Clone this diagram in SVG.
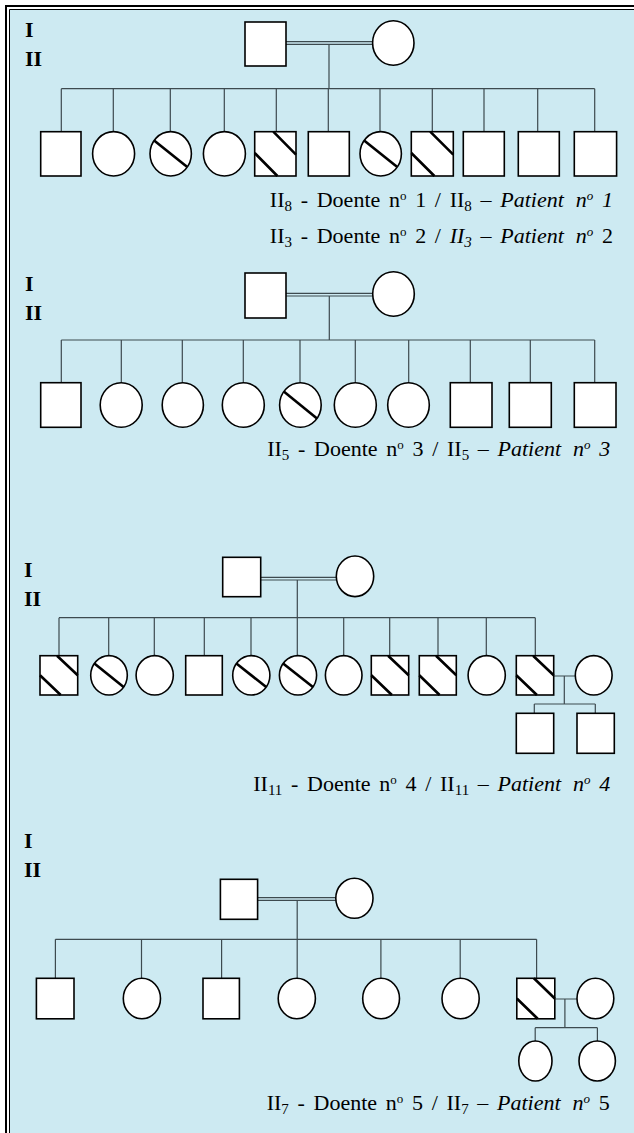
<svg xmlns="http://www.w3.org/2000/svg" width="634" height="1133" viewBox="0 0 634 1133">
  <style>
    .ind { fill: #fff; stroke: #000; stroke-width: 1.6; }
    .aff { stroke: #000; stroke-width: 2.6; fill: none; }
    .ln { stroke: #3d4a4f; stroke-width: 1.2; fill: none; }
    .gen { font-family: "Liberation Serif", "Times New Roman", serif; font-weight: bold; font-size: 22px; fill: #000; }
    .lab { font-family: "Liberation Serif", "Times New Roman", serif; font-size: 22px; word-spacing: 3.2px; fill: #000; }
    .it { font-style: italic; }
  </style>

  <!-- page frame: double rule on top and left, light-blue panel -->
  <rect x="0" y="0" width="634" height="1133" fill="#fff"/>
  <rect x="9" y="9" width="625" height="1124" fill="#cdeaf2"/>
  <path d="M6,1133 V6 H634" fill="none" stroke="#000" stroke-width="2"/>
  <path d="M9.5,1133 V9.5 H634" fill="none" stroke="#000" stroke-width="1"/>

  <!-- generation markers -->
  <g id="gen-labels">
    <text class="gen" x="25" y="36.7">I</text>
    <text class="gen" x="25" y="66">II</text>
    <text class="gen" x="25" y="290.7">I</text>
    <text class="gen" x="25" y="320">II</text>
    <text class="gen" x="24" y="576.7">I</text>
    <text class="gen" x="24" y="606">II</text>
    <text class="gen" x="24" y="848">I</text>
    <text class="gen" x="24" y="876.5">II</text>
  </g>

  <!-- connectors -->
  <g id="connectors" class="ln">
    <!-- family 1 -->
    <path d="M286,41.7 H372.6 M286,44.3 H372.6"/>
    <path d="M329,44.3 V88.7 M61.3,88.7 H594.7"/>
    <path d="M61.3,88.7 V131.7 M113.3,88.7 V131.7 M170.3,88.7 V131.7 M224.3,88.7 V131.7 M276.3,88.7 V131.7 M328.3,88.7 V131.7 M380,88.7 V131.7 M432.3,88.7 V131.7 M484,88.7 V131.7 M537.7,88.7 V131.7 M594.7,88.7 V131.7"/>
    <!-- family 2 -->
    <path d="M286,293.3 H372.7 M286,296 H372.7"/>
    <path d="M329.3,296 V340 M61.3,340 H594.7"/>
    <path d="M61.3,340 V382.7 M121.3,340 V382.7 M182.3,340 V382.7 M243.3,340 V382.7 M300,340 V382.7 M355.3,340 V382.7 M408.7,340 V382.7 M470.3,340 V382.7 M530.3,340 V382.7 M594.7,340 V382.7"/>
    <!-- family 3 -->
    <path d="M260.7,577.3 H336.3 M260.7,580 H336.3"/>
    <path d="M297.3,580 V617.7 M59,617.7 H535.3"/>
    <path d="M59,617.7 V655.7 M108.7,617.7 V655.7 M154.3,617.7 V655.7 M204.3,617.7 V655.7 M251,617.7 V655.7 M297.3,617.7 V655.7 M343.7,617.7 V655.7 M389.7,617.7 V655.7 M438,617.7 V655.7 M486.3,617.7 V655.7 M535.3,617.7 V655.7"/>
    <path d="M553.7,676 H575.3 M564.3,676 V704 M534.3,704 H595.3 M534.3,704 V713.3 M595.3,704 V713.3"/>
    <!-- family 4 -->
    <path d="M257.6,897.7 H335.8 M257.6,900.3 H335.8"/>
    <path d="M297.2,900.3 V939.3 M55.4,939.3 H536.6"/>
    <path d="M55.4,939.3 V978.3 M141.5,939.3 V978.3 M221.6,939.3 V978.3 M297.2,939.3 V978.3 M380.9,939.3 V978.3 M460.2,939.3 V978.3 M536.6,939.3 V978.3"/>
    <path d="M554.8,999 H577 M564.9,999 V1027.7 M535.2,1027.7 H597.4 M535.2,1027.7 V1041 M597.4,1027.7 V1041"/>
  </g>

  <!-- family 1 -->
  <g id="f1-father"><rect class="ind" x="245" y="22" width="41" height="44"/></g>
  <g id="f1-mother"><ellipse class="ind" cx="393.3" cy="43" rx="20.7" ry="22.2"/></g>
  <g id="f1-c1"><rect class="ind" x="40.7" y="131.7" width="40.3" height="44.3"/></g>
  <g id="f1-c2"><ellipse class="ind" cx="113.6" cy="153.8" rx="21" ry="22.2"/></g>
  <g id="f1-c3"><ellipse class="ind" cx="170.7" cy="153.8" rx="20.7" ry="22.2"/><path class="aff" d="M154.1,140.5 L187.3,167.1"/></g>
  <g id="f1-c4"><ellipse class="ind" cx="224.4" cy="153.8" rx="21" ry="22.2"/></g>
  <g id="f1-c5"><rect class="ind" x="254.7" y="131.7" width="41.3" height="44.3"/><path class="aff" d="M273.3,131.7 L296,154.7 M254.7,153 L277.4,176"/></g>
  <g id="f1-c6"><rect class="ind" x="308.3" y="131.7" width="41" height="44.3"/></g>
  <g id="f1-c7"><ellipse class="ind" cx="380.7" cy="153.8" rx="20.7" ry="22.2"/><path class="aff" d="M364.1,140.5 L397.3,167.1"/></g>
  <g id="f1-c8"><rect class="ind" x="411.3" y="131.7" width="42" height="44.3"/><path class="aff" d="M430.2,131.7 L453.3,154.7 M411.3,153 L434.4,176"/></g>
  <g id="f1-c9"><rect class="ind" x="463.3" y="131.7" width="41" height="44.3"/></g>
  <g id="f1-c10"><rect class="ind" x="518.3" y="131.7" width="41" height="44.3"/></g>
  <g id="f1-c11"><rect class="ind" x="574.3" y="131.7" width="42.3" height="44.3"/></g>
  <g id="f1-caption">
    <text class="lab" x="613" y="206.5" text-anchor="end">II<tspan font-size="15" dy="4">8</tspan><tspan dy="-4"> - Doente n</tspan><tspan font-size="13" dy="-7">o</tspan><tspan dy="7"> 1 / II</tspan><tspan font-size="15" dy="4">8</tspan><tspan dy="-4"> – </tspan><tspan class="it">Patient</tspan><tspan class="it" dx="12">n</tspan><tspan class="it" font-size="13" dy="-7">o</tspan><tspan class="it" dy="7"> 1</tspan></text>
    <text class="lab" x="613" y="242.5" text-anchor="end">II<tspan font-size="15" dy="4">3</tspan><tspan dy="-4"> - Doente n</tspan><tspan font-size="13" dy="-7">o</tspan><tspan dy="7"> 2 / </tspan><tspan class="it">II</tspan><tspan class="it" font-size="15" dy="4">3</tspan><tspan dy="-4"> – </tspan><tspan class="it">Patient</tspan><tspan class="it" dx="12">n</tspan><tspan class="it" font-size="13" dy="-7">o</tspan><tspan dy="7"> 2</tspan></text>
  </g>

  <!-- family 2 -->
  <g id="f2-father"><rect class="ind" x="245" y="273" width="41" height="45"/></g>
  <g id="f2-mother"><ellipse class="ind" cx="393.5" cy="294" rx="20.8" ry="22.2"/></g>
  <g id="f2-c1"><rect class="ind" x="40.7" y="382.7" width="40.3" height="44.6"/></g>
  <g id="f2-c2"><ellipse class="ind" cx="121.2" cy="405" rx="21" ry="22.3"/></g>
  <g id="f2-c3"><ellipse class="ind" cx="182.8" cy="405" rx="20.6" ry="22.3"/></g>
  <g id="f2-c4"><ellipse class="ind" cx="243.3" cy="405" rx="21" ry="22.3"/></g>
  <g id="f2-c5"><ellipse class="ind" cx="300.4" cy="405" rx="20.8" ry="22.3"/><path class="aff" d="M283.8,391.6 L317,418.4"/></g>
  <g id="f2-c6"><ellipse class="ind" cx="355.3" cy="405" rx="21" ry="22.3"/></g>
  <g id="f2-c7"><ellipse class="ind" cx="408.5" cy="405" rx="20.8" ry="22.3"/></g>
  <g id="f2-c8"><rect class="ind" x="450.3" y="382.7" width="41.7" height="44.6"/></g>
  <g id="f2-c9"><rect class="ind" x="509.3" y="382.7" width="42" height="44.6"/></g>
  <g id="f2-c10"><rect class="ind" x="574.3" y="382.7" width="41.7" height="44.6"/></g>
  <g id="f2-caption">
    <text class="lab" x="610.3" y="455.5" text-anchor="end">II<tspan font-size="15" dy="4">5</tspan><tspan dy="-4"> - Doente n</tspan><tspan font-size="13" dy="-7">o</tspan><tspan dy="7"> 3 / II</tspan><tspan font-size="15" dy="4">5</tspan><tspan dy="-4"> – </tspan><tspan class="it">Patient</tspan><tspan class="it" dx="12">n</tspan><tspan class="it" font-size="13" dy="-7">o</tspan><tspan class="it" dy="7"> 3</tspan></text>
  </g>

  <!-- family 3 -->
  <g id="f3-father"><rect class="ind" x="222.7" y="557.3" width="38" height="39.4"/></g>
  <g id="f3-mother"><ellipse class="ind" cx="355" cy="576.3" rx="18.7" ry="20.3"/></g>
  <g id="f3-c1"><rect class="ind" x="40" y="655.7" width="37.7" height="39.3"/><path class="aff" d="M57,655.7 L77.7,675.3 M40,675.3 L60.7,695"/></g>
  <g id="f3-c2"><ellipse class="ind" cx="109" cy="675.3" rx="18.3" ry="19.7"/><path class="aff" d="M94.4,663.5 L123.6,687.1"/></g>
  <g id="f3-c3"><ellipse class="ind" cx="154.7" cy="675.3" rx="18.6" ry="19.7"/></g>
  <g id="f3-c4"><rect class="ind" x="185.7" y="655.7" width="36.6" height="39.3"/></g>
  <g id="f3-c5"><ellipse class="ind" cx="251.3" cy="675.3" rx="18.6" ry="19.7"/><path class="aff" d="M236.4,663.5 L266.2,687.1"/></g>
  <g id="f3-c6"><ellipse class="ind" cx="298" cy="675.3" rx="18.6" ry="19.7"/><path class="aff" d="M283.1,663.5 L312.9,687.1"/></g>
  <g id="f3-c7"><ellipse class="ind" cx="343.7" cy="675.3" rx="18.3" ry="19.7"/></g>
  <g id="f3-c8"><rect class="ind" x="371.3" y="655.7" width="37.4" height="39.3"/><path class="aff" d="M388.1,655.7 L408.7,675.3 M371.3,675.3 L391.9,695"/></g>
  <g id="f3-c9"><rect class="ind" x="419.3" y="655.7" width="37" height="39.3"/><path class="aff" d="M436,655.7 L456.3,675.3 M419.3,675.3 L439.6,695"/></g>
  <g id="f3-c10"><ellipse class="ind" cx="486.7" cy="675.3" rx="18.6" ry="19.7"/></g>
  <g id="f3-c11"><rect class="ind" x="516.3" y="655.7" width="37.4" height="39.3"/><path class="aff" d="M533.1,655.7 L553.7,675.3 M516.3,675.3 L536.9,695"/></g>
  <g id="f3-spouse"><ellipse class="ind" cx="593.7" cy="675.3" rx="18.4" ry="19.7"/></g>
  <g id="f3-gc1"><rect class="ind" x="516.3" y="713.3" width="37.4" height="40"/></g>
  <g id="f3-gc2"><rect class="ind" x="577" y="713.3" width="37.3" height="40"/></g>
  <g id="f3-caption">
    <text class="lab" x="610.3" y="790.5" text-anchor="end">II<tspan font-size="15" dy="4">11</tspan><tspan dy="-4"> - Doente n</tspan><tspan font-size="13" dy="-7">o</tspan><tspan dy="7"> 4 / II</tspan><tspan font-size="15" dy="4">11</tspan><tspan dy="-4"> – </tspan><tspan class="it">Patient</tspan><tspan class="it" dx="12">n</tspan><tspan class="it" font-size="13" dy="-7">o</tspan><tspan class="it" dy="7"> 4</tspan></text>
  </g>

  <!-- family 4 -->
  <g id="f4-father"><rect class="ind" x="220.4" y="879.3" width="37.2" height="40"/></g>
  <g id="f4-mother"><ellipse class="ind" cx="354.4" cy="898.3" rx="18.6" ry="20"/></g>
  <g id="f4-c1"><rect class="ind" x="36.4" y="978.3" width="37.6" height="40.5"/></g>
  <g id="f4-c2"><ellipse class="ind" cx="141.9" cy="998.5" rx="18.6" ry="20.2"/></g>
  <g id="f4-c3"><rect class="ind" x="203" y="978.3" width="36.4" height="40.5"/></g>
  <g id="f4-c4"><ellipse class="ind" cx="296.8" cy="998.5" rx="18.6" ry="20.2"/></g>
  <g id="f4-c5"><ellipse class="ind" cx="381.1" cy="998.5" rx="18.4" ry="20.2"/></g>
  <g id="f4-c6"><ellipse class="ind" cx="460.6" cy="998.5" rx="18.6" ry="20.2"/></g>
  <g id="f4-c7"><rect class="ind" x="516.8" y="978.3" width="38" height="40.5"/><path class="aff" d="M533.9,978.3 L554.8,998.5 M516.8,998.5 L537.7,1018.8"/></g>
  <g id="f4-spouse"><ellipse class="ind" cx="595.4" cy="998.5" rx="18.4" ry="20.2"/></g>
  <g id="f4-gc1"><ellipse class="ind" cx="535.4" cy="1061" rx="16.6" ry="20"/></g>
  <g id="f4-gc2"><ellipse class="ind" cx="597.2" cy="1061" rx="18.2" ry="20"/></g>
  <g id="f4-caption">
    <text class="lab" x="609.8" y="1110" text-anchor="end">II<tspan font-size="15" dy="4">7</tspan><tspan dy="-4"> - Doente n</tspan><tspan font-size="13" dy="-7">o</tspan><tspan dy="7"> 5 / II</tspan><tspan font-size="15" dy="4">7</tspan><tspan dy="-4"> – </tspan><tspan class="it">Patient</tspan><tspan class="it" dx="12">n</tspan><tspan class="it" font-size="13" dy="-7">o</tspan><tspan dy="7"> 5</tspan></text>
  </g>
</svg>
